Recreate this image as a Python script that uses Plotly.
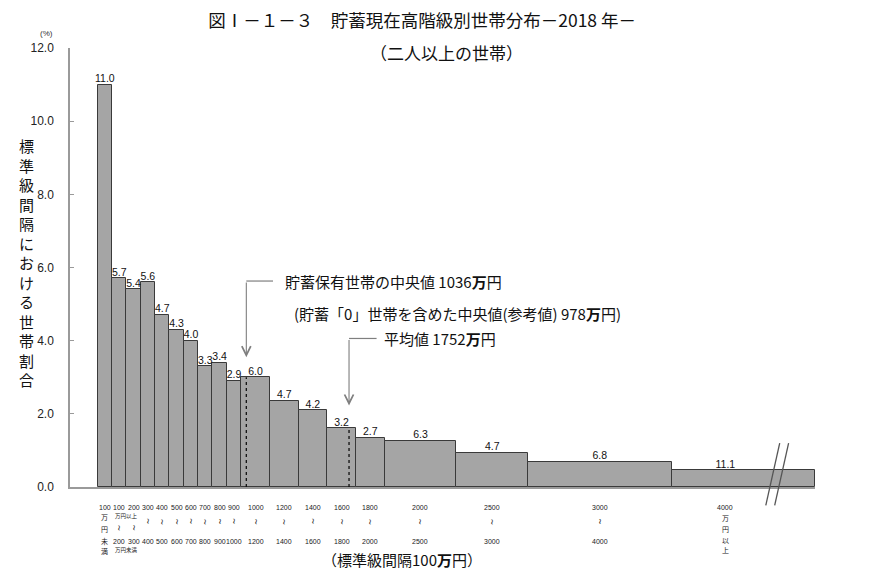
import plotly.graph_objects as go

# bin edges (万円), the last bin is "4000万円以上" and is drawn cut off at a break
bin_lows = [0, 100, 200, 300, 400, 500, 600, 700, 800, 900,
            1000, 1200, 1400, 1600, 1800, 2000, 2500, 3000, 4000]
bin_highs = [100, 200, 300, 400, 500, 600, 700, 800, 900, 1000,
             1200, 1400, 1600, 1800, 2000, 2500, 3000, 4000, 5000]
break_at = 4750

# share of households in each class (%)
shares = [11.0, 5.7, 5.4, 5.6, 4.7, 4.3, 4.0, 3.3, 3.4, 2.9,
          6.0, 4.7, 4.2, 3.2, 2.7, 6.3, 4.7, 6.8, 11.1]
# bar height = share per standard 100万円 interval
heights = [11.0, 5.7, 5.4, 5.6, 4.7, 4.3, 4.0, 3.3, 3.4, 2.9,
           3.0, 2.35, 2.1, 1.6, 1.35, 1.26, 0.94, 0.68, 0.46]

top_labels = ["100", "100", "200", "300", "400", "500", "600", "700", "800", "900",
              "1000", "1200", "1400", "1600", "1800", "2000", "2500", "3000", "4000"]
bottom_labels = ["", "200", "300", "400", "500", "600", "700", "800", "900", "1000",
                 "1200", "1400", "1600", "1800", "2000", "2500", "3000", "4000", ""]

median_holders = 1036
mean_value = 1752

x_range = [-193, 5000]
y_ticks = [0, 2, 4, 6, 8, 10, 12]

JP = "Noto Sans CJK JP"
NUM = "Liberation Sans, Noto Sans CJK JP"

widths = [h - l for l, h in zip(bin_lows, bin_highs)]
label_x = [(l + min(h, break_at)) / 2 for l, h in zip(bin_lows, bin_highs)]

fig = go.Figure()
fig.add_trace(go.Bar(x=bin_lows, y=heights, width=widths, offset=0,
                     marker=dict(color="#a5a5a5", line=dict(color="#3a3a3a", width=1)),
                     hoverinfo="skip"))
fig.add_trace(go.Scatter(x=label_x, y=heights, mode="text",
                         text=[f"{s:.1f}" for s in shares],
                         textposition="top center",
                         textfont=dict(family=NUM, size=10.5, color="#111"),
                         cliponaxis=False, hoverinfo="skip"))

# dashed lines for median and mean inside their bars
for v in [median_holders, mean_value]:
    i = max(k for k in range(len(bin_lows)) if bin_lows[k] <= v)
    fig.add_shape(type="line", x0=v, x1=v, y0=0, y1=heights[i],
                  line=dict(color="#111", width=1.3, dash="3px,3px"))

# arrows with elbow
arrow_col = "#7f7f7f"
for v, y_top, y_tip, x_end in [(median_holders, 5.63, 3.55, 1222),
                               (mean_value, 4.06, 2.23, 1944)]:
    fig.add_shape(type="line", x0=v, x1=x_end, y0=y_top, y1=y_top,
                  line=dict(color=arrow_col, width=1.2))
    fig.add_annotation(x=v, y=y_tip, ax=v, ay=y_top, axref="x", ayref="y",
                       text="", showarrow=True, arrowhead=5, arrowsize=1.6,
                       arrowwidth=1.1, arrowcolor=arrow_col)

fig.add_annotation(x=1291, y=5.63, text="貯蓄保有世帯の中央値 1036<b>万</b>円",
                   xanchor="left", yanchor="middle", showarrow=False,
                   font=dict(family=JP, size=15, color="#111"))
fig.add_annotation(x=1352, y=4.75, text="(貯蓄「0」世帯を含めた中央値(参考値) 978<b>万</b>円)",
                   xanchor="left", yanchor="middle", showarrow=False,
                   font=dict(family=JP, size=15, color="#111"))
fig.add_annotation(x=1979, y=4.06, text="平均値 1752<b>万</b>円",
                   xanchor="left", yanchor="middle", showarrow=False,
                   font=dict(family=JP, size=15, color="#111"))

# break marks on the last bar
for dx in [0, 62]:
    fig.add_shape(type="line", xref="x", yref="paper",
                  x0=break_at - 93 + dx, x1=break_at + 4 + dx, y0=-0.042, y1=0.1,
                  line=dict(color="#555", width=1.3))

# class labels under the axis
small = dict(family=NUM, size=7, color="#222")
wave = dict(family="DejaVu Sans", size=8, color="#333")
tiny = dict(family=JP, size=5.5, color="#222")
jp7 = dict(family=JP, size=7, color="#222")


def under(x, text, shift, font, angle=0):
    fig.add_annotation(x=x, y=0, xref="x", yref="paper", text=text, showarrow=False,
                       yshift=shift, xanchor="center", yanchor="middle", font=font,
                       textangle=angle)


for i, x in enumerate(label_x):
    under(x, top_labels[i], -20, small)
    if i == 0:
        for ch, s in zip("万円未満", [-30, -42, -54, -64]):
            under(x, ch, s, jp7)
    elif i == len(label_x) - 1:
        for ch, s in zip("万円以上", [-31, -42, -53, -63]):
            under(x, ch, s, jp7)
    elif i in (1, 2):
        under(x, "~", -41, wave, 90)
        under(x, bottom_labels[i], -54, small)
    else:
        under(x, "~", -35, wave, 90)
        under(x, bottom_labels[i], -54, small)
under(bin_lows[2], "万円以上", -29, tiny)
under(bin_lows[2], "万円未満", -63, tiny)

fig.add_annotation(x=0.4456, y=0, xref="paper", yref="paper", yshift=-72,
                   text="（標準級間隔100<b>万</b>円）", showarrow=False,
                   xanchor="center", yanchor="middle",
                   font=dict(family=JP, size=15, color="#111"))

# y axis title (vertical text) and unit
fig.add_annotation(x=-0.059, y=0.511, xref="paper", yref="paper",
                   text="<br>".join("標準級間隔における世帯割合"), showarrow=False,
                   xanchor="center", yanchor="middle", align="center",
                   font=dict(family=JP, size=15, color="#111"))
fig.add_annotation(x=-0.032, y=1.034, xref="paper", yref="paper", text="(%)",
                   showarrow=False, xanchor="center", yanchor="middle",
                   font=dict(family=NUM, size=8, color="#333"))
fig.add_annotation(x=0.5047, y=0.99, xref="paper", yref="paper",
                   text="（二人以上の世帯）", showarrow=False,
                   xanchor="center", yanchor="middle",
                   font=dict(family=JP, size=17, color="#111"))

# page has an 8px body margin, so margins are shifted to land on the reference
fig.update_layout(
    width=870, height=582,
    margin=dict(l=62, r=63, t=40, b=103),
    paper_bgcolor="white", plot_bgcolor="white",
    showlegend=False, bargap=0,
    title=dict(text="図Ⅰ－１－３　貯蓄現在高階級別世帯分布－2018 年－",
               x=0.476, y=0.978, xanchor="center", yanchor="middle",
               font=dict(family=JP, size=17.5, color="#111")),
)
fig.update_xaxes(range=x_range, showline=True, linecolor="#9a9a9a", linewidth=1.5,
                 showgrid=False, zeroline=False, showticklabels=False, ticks="")
fig.update_yaxes(range=[0, 12], tickvals=y_ticks, tickformat=".1f",
                 showline=True, linecolor="#9a9a9a", linewidth=1.5,
                 ticks="inside", ticklen=4, tickcolor="#9a9a9a",
                 ticklabelstandoff=12,
                 showgrid=False, zeroline=False,
                 tickfont=dict(family=NUM, size=12, color="#222"))

fig.write_html("out.html")
